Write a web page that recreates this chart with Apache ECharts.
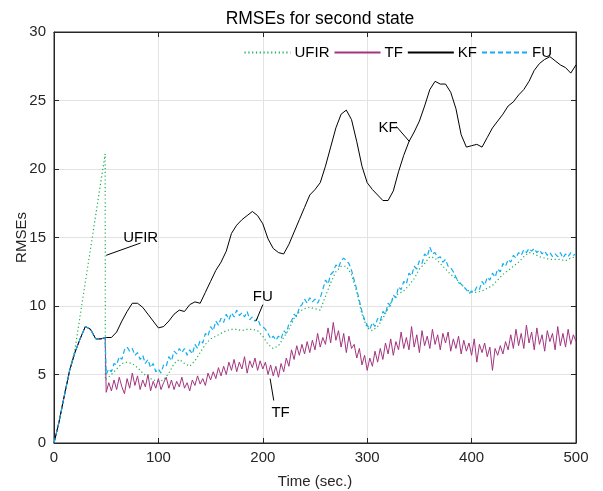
<!DOCTYPE html>
<html>
<head>
<meta charset="utf-8">
<script src="https://cdn.jsdelivr.net/npm/echarts@6/dist/echarts.min.js"></script>
<style>
  html, body { margin: 0; padding: 0; background: #fff; }
  #main { width: 603px; height: 491px; }
</style>
</head>
<body>
<div id="main"></div>
<script>
// tick labels
var xTicks = [0, 100, 200, 300, 400, 500];
var yTicks = [0, 5, 10, 15, 20, 25, 30];

// shared start (before switching at t=49)
var startT = [0, 5, 10, 15, 20, 25, 30, 35, 40, 45, 49];
var startV = [0, 1.6, 3.5, 5.3, 6.6, 7.6, 8.5, 8.3, 7.6, 7.6, 7.7];

// KF, every 5 s from 0 to 500
var kfVals = [0, 1.6, 3.5, 5.3, 6.6, 7.6, 8.5, 8.3, 7.6, 7.6,
  7.7, 7.7, 8.1, 8.9, 9.6, 10.2, 10.2, 9.9, 9.4, 8.9,
  8.4, 8.5, 8.9, 9.4, 9.7, 9.6, 10.1, 10.3, 10.2, 11.0,
  11.8, 12.6, 13.2, 14.0, 15.3, 15.9, 16.3, 16.6, 16.9, 16.6,
  16.0, 14.9, 14.2, 13.9, 13.8, 14.5, 15.4, 16.3, 17.2, 18.1,
  18.5, 19.0, 20.2, 21.6, 23.0, 24.0, 24.3, 23.6, 22.0, 20.2,
  19.0, 18.5, 18.1, 17.7, 17.7, 18.4, 19.8, 21.0, 22.0, 22.7,
  23.5, 24.6, 25.8, 26.4, 26.2, 26.2, 25.6, 24.4, 22.5, 21.6,
  21.7, 21.8, 21.6, 22.3, 23.0, 23.5, 24.0, 24.6, 24.9, 25.4,
  25.8, 26.4, 27.2, 27.7, 28.0, 28.2, 27.9, 27.6, 27.4, 27.0,
  27.6];

// UFIR: ramp before the switch, then every 5 s from 50 to 500
var ufirStartT = [0, 5, 10, 15, 20, 49];
var ufirStartV = [0, 1.6, 3.5, 5.3, 6.8, 21.1];
var ufirVals = [4.6, 5.0, 5.4, 5.8, 5.9, 5.8, 5.5, 5.1, 4.8, 4.6,
  4.5, 4.6, 5.1, 5.8, 6.1, 5.8, 5.6, 6.0, 6.6, 7.2,
  7.6, 7.8, 8.0, 8.2, 8.3, 8.3, 8.2, 8.3, 8.3, 8.2,
  7.8, 7.2, 6.9, 7.1, 7.7, 8.3, 9.1, 9.6, 9.8, 9.9,
  9.8, 9.7, 10.7, 11.7, 12.5, 12.9, 12.9, 12.3, 11.0, 9.4,
  8.4, 8.2, 8.5, 9.1, 9.8, 10.6, 10.9, 11.1, 11.5, 12.0,
  12.7, 13.1, 13.6, 13.5, 13.1, 12.7, 12.3, 12.0, 11.6, 11.2,
  11.0, 11.0, 11.1, 11.3, 11.5, 11.9, 12.3, 12.6, 12.9, 13.2,
  13.6, 13.9, 13.8, 13.6, 13.5, 13.4, 13.4, 13.4, 13.3, 13.5,
  13.6];

// FU, every 2.5 s from 50 to 500
var fuVals = [5.0, 5.4, 5.2, 5.8, 5.7, 6.3, 6.1, 6.8, 7.0, 6.7, 6.9, 6.4,
  6.6, 6.1, 6.4, 5.8, 6.1, 5.5, 5.8, 5.2, 5.4, 5.1, 5.7, 5.6,
  6.3, 6.0, 6.7, 6.5, 6.9, 6.6, 6.9, 6.4, 6.8, 6.5, 7.2, 6.9,
  7.5, 7.3, 8.0, 7.8, 8.5, 8.2, 8.9, 8.6, 9.1, 8.8, 9.4, 9.0,
  9.5, 9.2, 9.7, 9.3, 9.5, 9.2, 9.6, 9.0, 9.2, 8.9, 9.1, 8.6,
  8.5, 8.3, 8.0, 7.6, 7.8, 7.5, 7.8, 7.6, 8.2, 8.0, 8.7, 8.9,
  9.4, 9.2, 9.9, 10.1, 10.5, 10.2, 10.6, 10.3, 10.5, 10.2, 10.6, 11.2,
  11.9, 11.6, 12.3, 12.5, 13.0, 12.8, 13.3, 13.5, 13.3, 13.1, 12.6, 11.9,
  11.2, 10.4, 9.6, 9.0, 8.6, 8.3, 8.8, 8.5, 9.1, 8.9, 9.6, 9.4,
  10.2, 10.0, 10.8, 10.6, 11.4, 11.2, 11.8, 11.6, 12.4, 12.2, 12.9, 12.7,
  13.3, 13.1, 13.8, 13.6, 14.3, 13.8, 13.9, 13.5, 13.6, 13.2, 13.4, 12.9,
  12.8, 12.5, 12.1, 11.7, 11.6, 11.4, 11.2, 10.9, 11.1, 11.0, 11.4, 11.2,
  11.8, 11.5, 12.1, 11.9, 12.4, 12.1, 12.7, 12.5, 13.1, 12.9, 13.4, 13.2,
  13.7, 13.5, 13.9, 13.7, 14.1, 13.9, 14.2, 14.0, 14.2, 13.9, 14.1, 13.8,
  14.0, 13.7, 13.9, 13.6, 13.8, 13.6, 13.9, 13.5, 13.8, 13.6, 13.9, 13.7,
  13.8];

// TF, every 2.5 s from 50 to 500
var tfVals = [3.7, 4.4, 3.8, 4.6, 3.9, 4.8, 4.1, 3.6, 4.7, 4.0, 5.1, 4.2,
  4.9, 3.9, 4.6, 4.1, 5.0, 3.8, 4.5, 4.0, 4.7, 3.9, 4.4, 4.8,
  4.0, 4.6, 3.9, 4.5, 4.1, 4.8, 4.0, 4.4, 3.8, 4.6, 4.2, 4.9,
  4.3, 4.7, 4.2, 5.1, 4.6, 5.2, 4.7, 5.5, 4.9, 5.6, 5.0, 5.9,
  5.3, 6.1, 5.2, 5.9, 5.4, 6.3, 5.1, 6.0, 5.5, 6.2, 5.3, 6.0,
  5.4, 5.9, 5.0, 5.7, 4.9, 5.6, 4.8, 5.8, 5.2, 6.2, 5.6, 6.8,
  6.1, 7.1, 6.4, 7.2, 6.5, 7.4, 6.6, 7.5, 6.8, 8.0, 7.0, 7.7,
  7.2, 8.4, 7.3, 8.8, 7.5, 8.2, 7.0, 8.0, 6.6, 7.8, 6.9, 7.2,
  6.2, 6.9, 5.7, 6.4, 5.3, 6.2, 5.6, 6.7, 5.9, 6.9, 6.1, 7.3,
  6.5, 7.6, 6.4, 7.4, 6.8, 8.1, 6.9, 7.7, 6.8, 8.5, 7.0, 7.9,
  6.6, 8.2, 7.1, 7.8, 6.9, 8.3, 7.2, 7.9, 6.8, 8.0, 7.3, 8.1,
  6.7, 7.6, 6.9, 7.8, 6.5, 7.5, 6.7, 7.3, 6.4, 7.6, 5.9, 7.2,
  6.6, 7.3, 6.3, 7.0, 5.3, 6.9, 6.4, 7.1, 6.5, 7.4, 6.8, 7.9,
  6.9, 8.3, 7.1, 8.0, 6.9, 8.6, 7.3, 8.1, 6.8, 8.4, 7.2, 7.9,
  6.7, 8.2, 7.4, 8.0, 6.8, 8.5, 7.1, 8.0, 7.0, 8.3, 7.2, 7.9,
  7.4];

// text annotations: [text, x, y, leaderFromX, leaderFromY, leaderToX, leaderToY]
var notes = [
  ['UFIR', 83, 15.0, 83, 14.6, 50, 13.7],
  ['FU', 200, 10.7, 200, 10.1, 193.5, 8.9],
  ['TF', 217, 2.2, 210.5, 3.1, 207, 4.7],
  ['KF', 320, 23.0, 328, 23.1, 340.5, 22.0]
];

var FONT = 'Liberation Sans, Arial, sans-serif';
var AX = '#262626';

function stepPairs(x0, dx, vals) {
  var out = [];
  for (var i = 0; i < vals.length; i++) out.push([x0 + i * dx, vals[i]]);
  return out;
}
function zip(ts, vs) {
  var out = [];
  for (var i = 0; i < ts.length; i++) out.push([ts[i], vs[i]]);
  return out;
}

var ufirData = zip(ufirStartT, ufirStartV).concat(stepPairs(49.2, 0, [ufirVals[0]]), stepPairs(50, 5, ufirVals));
var tfData = zip(startT, startV).concat(stepPairs(50, 2.5, tfVals));
var fuData = zip(startT, startV).concat(stepPairs(50, 2.5, fuVals));
var kfData = stepPairs(0, 5, kfVals);

var chart = echarts.init(document.getElementById('main'));

var option = {
  animation: false,
  backgroundColor: '#fff',
  title: {
    text: 'RMSEs for second state',
    left: 315, top: 5, textAlign: 'center',
    textStyle: { fontFamily: FONT, fontSize: 17.5, fontWeight: 'normal', color: '#000' }
  },
  legend: {
    right: 46, top: 40,
    itemWidth: 46, itemHeight: 10, itemGap: 4,
    itemStyle: { opacity: 0 },
    textStyle: { fontFamily: FONT, fontSize: 15, color: '#000', padding: [0, 0, 0, -1] },
    data: ['UFIR', 'TF', 'KF', 'FU']
  },
  grid: {
    left: 54, right: 27, top: 32, bottom: 48, outerBoundsMode: 'none',
    show: true, borderColor: AX, borderWidth: 1, backgroundColor: 'transparent'
  },
  xAxis: [
    {
      type: 'value', min: 0, max: 500, interval: 100,
      name: 'Time (sec.)', nameLocation: 'middle', nameGap: 31, nameMoveOverlap: false,
      nameTextStyle: { fontFamily: FONT, fontSize: 15, color: AX },
      axisLine: { show: true, onZero: false, lineStyle: { color: AX } },
      axisTick: { show: true, inside: true, length: 5, lineStyle: { color: AX } },
      axisLabel: {
        fontFamily: FONT, fontSize: 15, color: AX, margin: 7,
        formatter: function (v) { return xTicks.indexOf(v) >= 0 ? String(v) : ''; }
      },
      splitLine: { show: true, lineStyle: { color: '#e3e3e3', width: 1 } }
    },
    {
      type: 'value', min: 0, max: 500, interval: 100, position: 'top', gridIndex: 0,
      axisLine: { show: true, onZero: false, lineStyle: { color: AX } },
      axisTick: { show: true, inside: true, length: 5, lineStyle: { color: AX } },
      axisLabel: { show: false },
      splitLine: { show: false }
    }
  ],
  yAxis: [
    {
      type: 'value', min: 0, max: 30, interval: 5,
      name: 'RMSEs', nameLocation: 'middle', nameGap: 25, nameMoveOverlap: false,
      nameTextStyle: { fontFamily: FONT, fontSize: 15, color: AX },
      axisLine: { show: true, onZero: false, lineStyle: { color: AX } },
      axisTick: { show: true, inside: true, length: 5, lineStyle: { color: AX } },
      axisLabel: {
        fontFamily: FONT, fontSize: 15, color: AX, margin: 8,
        formatter: function (v) { return yTicks.indexOf(v) >= 0 ? String(v) : ''; }
      },
      splitLine: { show: true, lineStyle: { color: '#e3e3e3', width: 1 } }
    },
    {
      type: 'value', min: 0, max: 30, interval: 5, position: 'right', gridIndex: 0,
      axisLine: { show: true, onZero: false, lineStyle: { color: AX } },
      axisTick: { show: true, inside: true, length: 5, lineStyle: { color: AX } },
      axisLabel: { show: false },
      splitLine: { show: false }
    }
  ],
  series: [
    {
      name: 'UFIR', type: 'line', data: ufirData, symbol: 'none',
      lineStyle: { color: '#1fae55', width: 1.2, type: [1.2, 2.6] },
      itemStyle: { color: '#1fae55' }
    },
    {
      name: 'TF', type: 'line', data: tfData, symbol: 'none',
      lineStyle: { color: '#a2347f', width: 1 },
      itemStyle: { color: '#a2347f' }
    },
    {
      name: 'KF', type: 'line', data: kfData, symbol: 'none',
      lineStyle: { color: '#000', width: 1 },
      itemStyle: { color: '#000' }
    },
    {
      name: 'FU', type: 'line', data: fuData, symbol: 'none',
      lineStyle: { color: '#12aef0', width: 1.2, type: [5, 3] },
      itemStyle: { color: '#12aef0' }
    },
    // empty series so the top/right box axes get drawn
    { name: 'box', type: 'line', xAxisIndex: 1, yAxisIndex: 1, data: [], silent: true }
  ]
};

chart.setOption(option);

// annotations placed in data coordinates
var g = [];
notes.forEach(function (n) {
  var p = chart.convertToPixel({ gridIndex: 0 }, [n[1], n[2]]);
  var a = chart.convertToPixel({ gridIndex: 0 }, [n[3], n[4]]);
  var b = chart.convertToPixel({ gridIndex: 0 }, [n[5], n[6]]);
  g.push({
    type: 'text', x: p[0], y: p[1], z: 10,
    style: { text: n[0], fontFamily: FONT, fontSize: 15, fill: '#000', align: 'center', verticalAlign: 'middle' }
  });
  g.push({
    type: 'line', z: 10,
    shape: { x1: a[0], y1: a[1], x2: b[0], y2: b[1] },
    style: { stroke: '#000', lineWidth: 1 }
  });
});
chart.setOption({ graphic: g });
</script>
</body>
</html>
